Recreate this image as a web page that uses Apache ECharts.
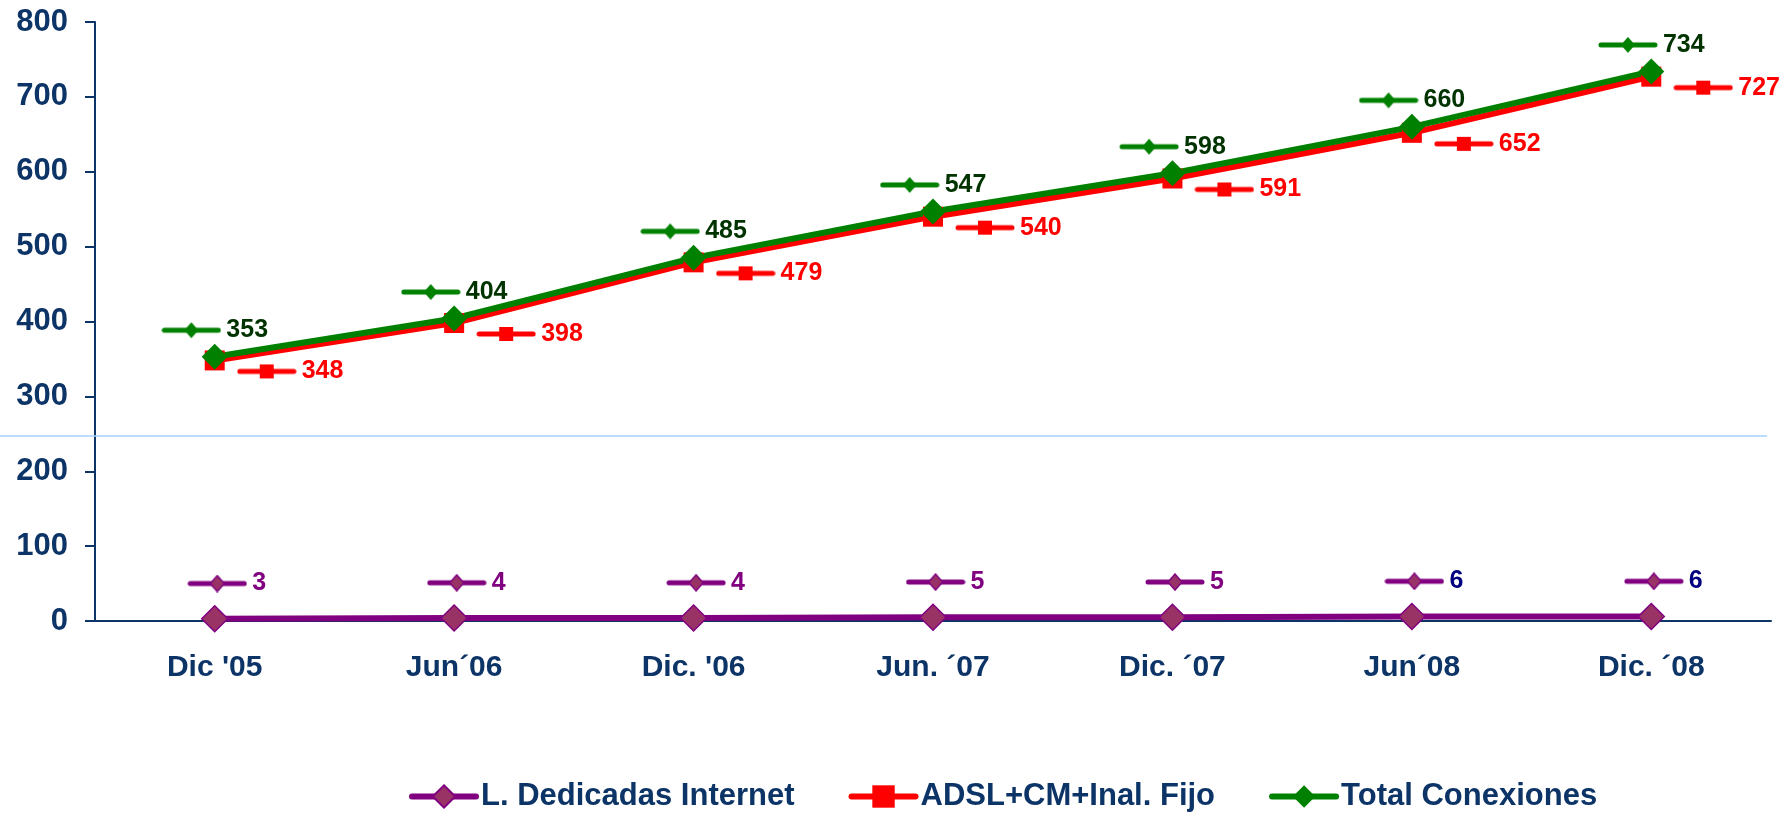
<!DOCTYPE html>
<html>
<head>
<meta charset="utf-8">
<script src="https://cdn.jsdelivr.net/npm/echarts@6/dist/echarts.min.js"></script>
<style>
  html, body { margin: 0; padding: 0; background: #fff; }
  #chart { width: 1784px; height: 814px; }
</style>
</head>
<body>
<div id="chart"></div>
<script>
const categories = ["Dic '05", 'Jun\u00b406', "Dic. '06", 'Jun. \u00b407', 'Dic. \u00b407', 'Jun\u00b408', 'Dic. \u00b408'];
const dedicadas = [3, 4, 4, 5, 5, 6, 6];
const adsl = [348, 398, 479, 540, 591, 652, 727];
const total = [353, 404, 485, 547, 598, 660, 734];
const yTicks = { min: 0, max: 800, step: 100 };
const breakValue = 247;

const font = "'Liberation Sans', Arial, sans-serif";
const navy = '#0d3466';

// little legend-key drawn in front of each data label (line + marker)
function keyImage(lineColor, shape, fill, stroke) {
  const c = document.createElement('canvas');
  c.width = 60; c.height = 18;
  const ctx = c.getContext('2d');
  ctx.strokeStyle = lineColor;
  ctx.lineWidth = 5;
  ctx.lineCap = 'round';
  ctx.beginPath();
  ctx.moveTo(3, 9); ctx.lineTo(57, 9);
  ctx.stroke();
  ctx.fillStyle = fill;
  ctx.beginPath();
  if (shape === 'diamond') {
    ctx.moveTo(30, 1); ctx.lineTo(37, 9); ctx.lineTo(30, 17); ctx.lineTo(23, 9);
    ctx.closePath();
  } else {
    ctx.rect(23, 2, 14, 14);
  }
  ctx.fill();
  if (stroke) { ctx.strokeStyle = stroke; ctx.lineWidth = 1.5; ctx.stroke(); }
  return c;
}

const keyPurple = keyImage('#800080', 'diamond', '#993366', '#800080');
const keyRed = keyImage('#ff0000', 'square', '#ff0000');
const keyGreen = keyImage('#008000', 'diamond', '#008000');

function richFor(img, color) {
  return {
    k: { width: 60, height: 18, backgroundColor: { image: img } },
    v: { color: color, fontSize: 25, fontWeight: 'bold', fontFamily: font, padding: [0, 0, 0, 5] },
    n: { color: '#000080', fontSize: 25, fontWeight: 'bold', fontFamily: font, padding: [0, 0, 0, 5] }
  };
}

const chart = echarts.init(document.getElementById('chart'));

const option = {
  animation: false,
  backgroundColor: '#ffffff',
  grid: { left: 95, right: 13, top: 22, bottom: 193 },
  legend: {
    left: 404,
    top: 776,
    itemWidth: 64,
    itemHeight: 28,
    itemGap: 54,
    lineStyle: { width: 6, cap: 'round' },
    textStyle: { color: navy, fontSize: 31, fontWeight: 'bold', fontFamily: font }
  },
  xAxis: {
    type: 'category',
    data: categories,
    axisLine: { lineStyle: { color: navy, width: 2 } },
    axisTick: { length: 10, lineStyle: { color: navy, width: 2 } },
    axisLabel: { color: navy, fontSize: 30, fontWeight: 'bold', fontFamily: font, margin: 32 }
  },
  yAxis: {
    type: 'value',
    min: yTicks.min,
    max: yTicks.max,
    interval: yTicks.step,
    splitLine: { show: false },
    axisLine: { show: true, lineStyle: { color: navy, width: 2 } },
    axisTick: { show: true, length: 10, lineStyle: { color: navy, width: 2 } },
    axisLabel: { color: navy, fontSize: 31, fontWeight: 'bold', fontFamily: font, margin: 27 }
  },
  series: [
    {
      name: 'L. Dedicadas Internet',
      type: 'line',
      data: dedicadas,
      symbol: 'diamond',
      symbolSize: 26,
      lineStyle: { color: '#800080', width: 6 },
      itemStyle: { color: '#993366', borderColor: '#800080', borderWidth: 1.5 },
      label: {
        show: true,
        position: 'top',
        distance: 9,
        offset: [12, 0],
        formatter: p => '{k|}' + (p.dataIndex >= 5 ? '{n|' : '{v|') + p.value + '}',
        rich: richFor(keyPurple, '#800080')
      }
    },
    {
      name: 'ADSL+CM+Inal. Fijo',
      type: 'line',
      data: adsl,
      symbol: 'rect',
      symbolSize: 20,
      lineStyle: { color: '#ff0000', width: 6 },
      itemStyle: { color: '#ff0000' },
      label: {
        show: true,
        position: 'right',
        distance: 12,
        offset: [0, 11],
        formatter: p => '{k|}{v|' + p.value + '}',
        rich: richFor(keyRed, '#ff0000')
      }
    },
    {
      name: 'Total Conexiones',
      type: 'line',
      data: total,
      symbol: 'diamond',
      symbolSize: 26,
      lineStyle: { color: '#008000', width: 6 },
      itemStyle: { color: '#008000' },
      label: {
        show: true,
        position: 'top',
        distance: 1,
        formatter: p => '{k|}{v|' + p.value + '}',
        rich: richFor(keyGreen, '#003300')
      }
    }
  ]
};

chart.setOption(option);

// thin light-blue break line across the plot
const yBreak = chart.convertToPixel({ yAxisIndex: 0 }, breakValue);
const xEnd = chart.getWidth() - 17;
chart.setOption({
  graphic: [{
    type: 'line',
    z: 1,
    shape: { x1: 0, y1: yBreak, x2: xEnd, y2: yBreak },
    style: { stroke: '#a6d2ff', lineWidth: 1.5 }
  }]
});
</script>
</body>
</html>
